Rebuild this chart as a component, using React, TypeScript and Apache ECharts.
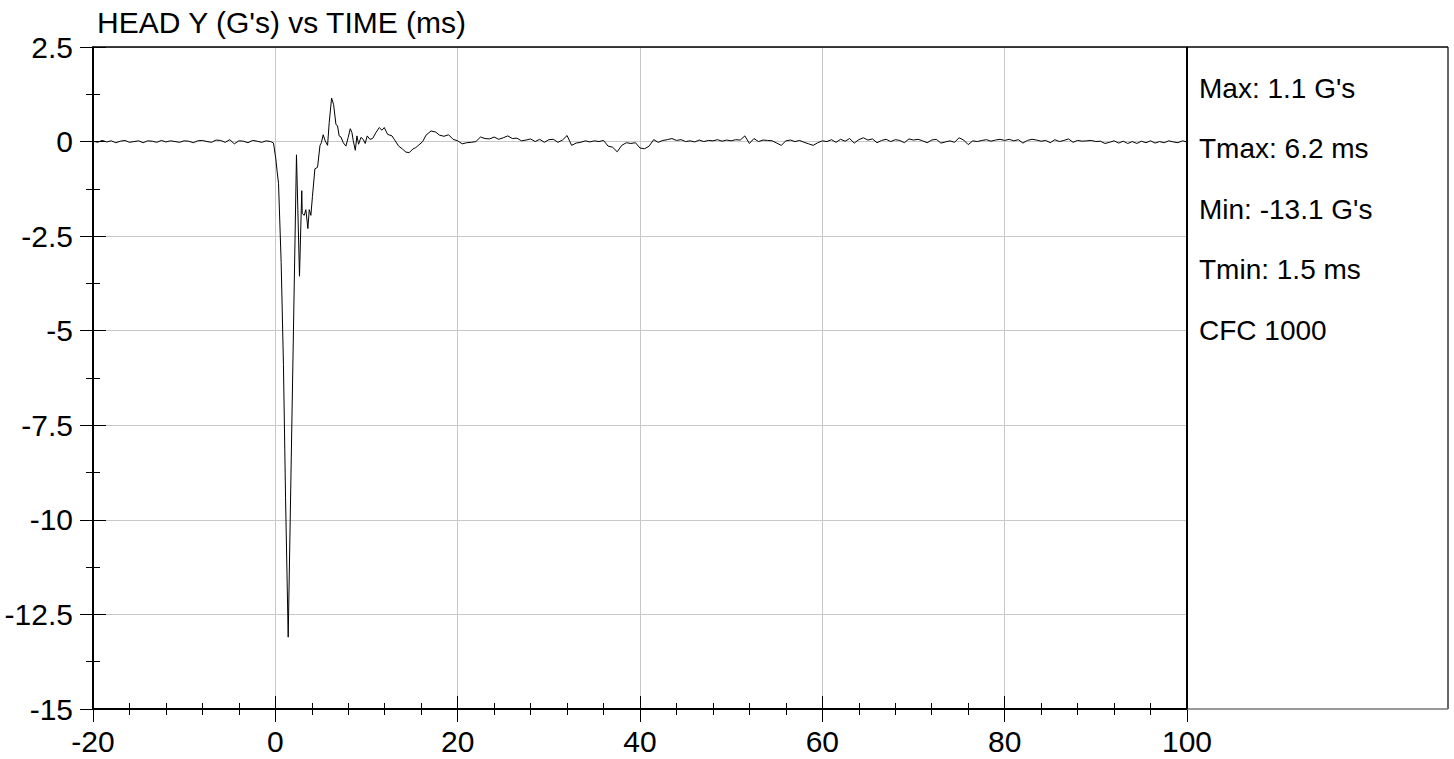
import React, { useEffect, useRef } from "react";
import * as echarts from "echarts";

// ---- data ----
const chartTitle = "HEAD Y (G's) vs TIME (ms)";
const statsLines = ["Max: 1.1 G's", "Tmax: 6.2 ms", "Min: -13.1 G's", "Tmin: 1.5 ms", "CFC 1000"];

const xMin = -20;
const xMax = 100;
const xInterval = 20;
const yMin = -15;
const yMax = 2.5;
const yInterval = 2.5;

// pre-trigger samples, every 0.5 ms from -20 ms
const preStart = -20;
const preStep = 0.5;
const preTriggerValues = [
  0.01, -0.02, 0.03, -0.01, 0.02, -0.03, 0.01, 0.03, -0.02, 0.0,
  0.02, -0.03, 0.02, 0.01, -0.02, 0.03, -0.01, 0.02, 0.0, -0.02,
  0.02, 0.01, -0.03, 0.02, 0.03, 0.0, -0.02, 0.04, 0.03, -0.02,
  0.05, -0.06, 0.02, 0.01, -0.03, 0.03, 0.01, -0.02, 0.02, 0.0,
];

// impact event, irregular times (ms)
const eventTimes = [
  -0.2, 0.05, 0.2, 0.35, 0.64, 0.89, 1.12, 1.41, 2.32, 2.65, 2.9, 2.95, 3.17, 3.35, 3.57, 3.72,
  3.9, 4.07, 4.34, 4.63, 4.9, 5.05, 5.25, 5.47, 5.73, 5.91, 6.17, 6.39, 6.65, 6.82, 7.0, 7.2,
  7.45, 7.74, 7.99, 8.22, 8.4, 8.55, 8.77, 8.95, 9.13, 9.39, 9.64, 9.86, 10.08, 10.37, 10.67,
  11.04, 11.4, 11.7, 11.95, 12.32, 12.8, 13.04, 13.53, 13.96, 14.33, 14.7, 15.07, 15.4, 15.6,
  16.16, 16.53, 17.08, 17.6, 18.0,
];
const eventValues = [
  -0.04, -0.45, -0.8, -1.1, -3.2, -5.9, -9.4, -13.1, -0.35, -3.56, -1.3, -1.9, -1.95, -1.8, -2.3, -1.8,
  -1.95, -1.45, -0.72, -0.68, -0.1, -0.03, 0.18, 0.02, -0.1, 0.5, 1.15, 0.98, 0.45, 0.42, 0.15, 0.12,
  -0.03, -0.12, 0.11, 0.34, 0.24, 0.02, -0.23, 0.15, -0.07, 0.11, 0.06, -0.05, 0.15, 0.06, 0.08,
  0.24, 0.37, 0.3, 0.37, 0.19, 0.15, 0.06, -0.12, -0.2, -0.28, -0.29, -0.2, -0.16, -0.12,
  0.0, 0.17, 0.28, 0.25, 0.17,
];

// post-event samples, every 0.5 ms from 18.5 ms
const postStart = 18.5;
const postStep = 0.5;
const postTriggerValues = [
  0.14, 0.18, 0.06, 0.02, -0.06, -0.03, -0.02, 0.0, 0.12, 0.08,
  0.07, 0.12, 0.06, 0.1, 0.15, 0.08, 0.09, 0.02, 0.04, 0.07,
  0.0, 0.06, -0.02, 0.05, 0.06, -0.02, 0.04, 0.16, -0.1, -0.04,
  -0.02, 0.02, -0.01, 0.02, 0.0, 0.03, -0.12, -0.15, -0.27, -0.1,
  -0.03, -0.05, -0.03, -0.17, -0.19, -0.12, 0.05, -0.02, 0.03, 0.05,
  0.08, 0.03, 0.05, 0.0, 0.02, -0.01, 0.04, 0.0, 0.03, 0.02,
  0.05, 0.01, 0.04, 0.02, 0.05, 0.04, 0.15, -0.05, 0.08, 0.0,
  0.04, 0.03, 0.02, -0.04, -0.1, 0.02, 0.04, 0.0, 0.03, -0.02,
  -0.06, -0.1, -0.03, 0.02, 0.0, 0.05, -0.02, 0.06, 0.01, 0.08,
  -0.04, 0.05, 0.1, 0.04, 0.07, -0.03, 0.03, 0.06, 0.0, 0.05,
  0.03, -0.03, 0.07, 0.04, 0.06, 0.02, -0.03, 0.04, 0.06, -0.04,
  -0.01, 0.02, -0.02, 0.1, 0.04, -0.08, 0.02, 0.0, 0.03, 0.05,
  0.01, 0.04, 0.06, 0.03, 0.06, 0.02, 0.05, -0.04, 0.03, 0.06,
  0.04, 0.01, 0.03, -0.03, 0.05, 0.0, 0.03, 0.07, -0.02, 0.03,
  0.01, 0.02, 0.03, 0.0, 0.01, -0.05, -0.02, 0.02, -0.04, 0.01,
  -0.05, 0.0, -0.05, 0.01, -0.03, 0.02, -0.04, 0.0, -0.03, 0.02,
  -0.01, -0.03, 0.02, -0.01,
];

function buildSeriesData(): [number, number][] {
  const out: [number, number][] = [];
  preTriggerValues.forEach((v, i) => out.push([+(preStart + i * preStep).toFixed(3), v]));
  eventTimes.forEach((t, i) => out.push([t, eventValues[i]]));
  postTriggerValues.forEach((v, i) => out.push([+(postStart + i * postStep).toFixed(3), v]));
  return out;
}

const FONT = "Liberation Sans, Arial, Helvetica, sans-serif";

export default function App() {
  const ref = useRef<HTMLDivElement>(null);

  useEffect(() => {
    if (!ref.current) return;
    const chart = echarts.init(ref.current, null, { renderer: "svg" });

    const gridBox = { left: 93, top: 47, right: 267, bottom: 50 };
    const W = 1454;
    const H = 759;
    const plotRight = W - gridBox.right;
    const plotBottom = H - gridBox.bottom;

    const option: any = {
      animation: false,
      backgroundColor: "#ffffff",
      title: {
        text: chartTitle,
        left: 97,
        top: 7,
        padding: 0,
        textStyle: { fontFamily: FONT, fontSize: 30, fontWeight: "normal", color: "#000" },
      },
      grid: [
        { ...gridBox, containLabel: false },
        { ...gridBox, containLabel: false },
      ],
      xAxis: [
        {
          type: "value",
          gridIndex: 0,
          min: xMin,
          max: xMax,
          interval: xInterval,
          axisLine: { show: true, onZero: false, lineStyle: { color: "#000", width: 2 } },
          axisTick: { show: true, inside: false, length: 13, lineStyle: { color: "#000", width: 1 } },
          minorTick: { show: true, splitNumber: 5, length: 6, lineStyle: { color: "#000", width: 1 } },
          axisLabel: { margin: 17, fontFamily: FONT, fontSize: 30, color: "#000" },
          splitLine: { show: true, lineStyle: { color: "#c8c8c8", width: 1 } },
        },
        {
          type: "value",
          gridIndex: 1,
          min: xMin,
          max: xMax,
          interval: xInterval,
          axisLine: { show: false, onZero: false },
          axisTick: { show: true, inside: true, length: 13, lineStyle: { color: "#000", width: 1 } },
          minorTick: { show: true, splitNumber: 5, length: 6, lineStyle: { color: "#000", width: 1 } },
          axisLabel: { show: false },
          splitLine: { show: false },
        },
      ],
      yAxis: [
        {
          type: "value",
          gridIndex: 0,
          min: yMin,
          max: yMax,
          interval: yInterval,
          axisLine: { show: true, onZero: false, lineStyle: { color: "#000", width: 2 } },
          axisTick: { show: true, inside: false, length: 13, lineStyle: { color: "#000", width: 1 } },
          minorTick: { show: true, splitNumber: 2, length: 7, lineStyle: { color: "#000", width: 1 } },
          axisLabel: { margin: 20, fontFamily: FONT, fontSize: 30, color: "#000" },
          splitLine: { show: true, lineStyle: { color: "#c8c8c8", width: 1 } },
        },
        {
          type: "value",
          gridIndex: 1,
          min: yMin,
          max: yMax,
          interval: yInterval,
          axisLine: { show: false, onZero: false },
          axisTick: { show: true, inside: true, length: 13, lineStyle: { color: "#000", width: 1 } },
          minorTick: { show: true, splitNumber: 2, length: 7, lineStyle: { color: "#000", width: 1 } },
          axisLabel: { show: false },
          splitLine: { show: false },
        },
      ],
      series: [
        {
          type: "line",
          xAxisIndex: 0,
          yAxisIndex: 0,
          data: buildSeriesData(),
          showSymbol: false,
          symbol: "none",
          lineStyle: { color: "#000", width: 1 },
          z: 5,
        },
      ],
      graphic: [
        {
          type: "line",
          shape: { x1: gridBox.left, y1: gridBox.top, x2: 1448, y2: gridBox.top },
          style: { stroke: "#000", lineWidth: 1.5 },
          z: 10,
        },
        {
          type: "line",
          shape: { x1: 1448, y1: gridBox.top, x2: 1448, y2: plotBottom },
          style: { stroke: "#000", lineWidth: 1.2 },
          z: 10,
        },
        {
          type: "line",
          shape: { x1: plotRight, y1: plotBottom, x2: 1448, y2: plotBottom },
          style: { stroke: "#777", lineWidth: 1.5 },
          z: 10,
        },
        {
          type: "line",
          shape: { x1: plotRight, y1: gridBox.top, x2: plotRight, y2: plotBottom },
          style: { stroke: "#000", lineWidth: 2 },
          z: 11,
        },
        ...statsLines.map((s, i) => ({
          type: "text",
          x: 1199,
          y: 88 + i * 60.6,
          style: {
            text: s,
            fontFamily: FONT,
            fontSize: 28,
            fill: "#000",
            textVerticalAlign: "middle",
            textAlign: "left",
          },
          z: 12,
        })),
      ],
    };

    chart.setOption(option);
    return () => chart.dispose();
  }, []);

  return (
    <div
      ref={ref}
      style={{ position: "absolute", left: 0, top: 0, width: 1454, height: 759, background: "#fff" }}
    />
  );
}
